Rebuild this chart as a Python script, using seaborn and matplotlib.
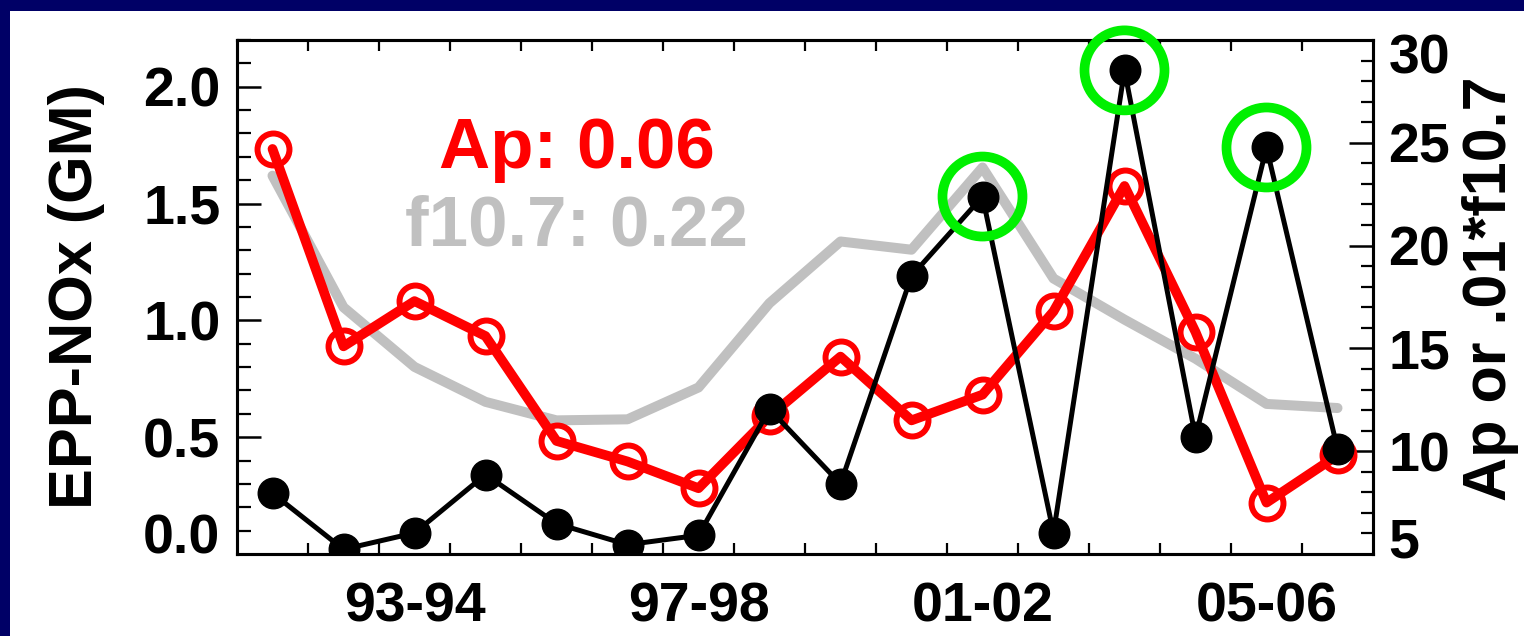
import numpy as np
import matplotlib
matplotlib.use("Agg")
import matplotlib.pyplot as plt
import matplotlib.ticker as mticker
import matplotlib.transforms as mtransforms
from matplotlib.patches import Rectangle
import seaborn as sns

# winters 91-92 .. 06-07
winters = ['91-92', '92-93', '93-94', '94-95', '95-96', '96-97', '97-98', '98-99',
           '99-00', '00-01', '01-02', '02-03', '03-04', '04-05', '05-06', '06-07']
shown_winters = ['93-94', '97-98', '01-02', '05-06']

# EPP-NOx (GM), left axis
epp_nox = [0.26, 0.02, 0.09, 0.34, 0.13, 0.04, 0.08, 0.62, 0.30, 1.19,
           1.53, 0.09, 2.07, 0.50, 1.74, 0.45]
# Ap and .01*f10.7, right axis
ap = [24.7, 15.1, 17.3, 15.6, 10.5, 9.5, 8.2, 11.7, 14.6, 11.5,
      12.75, 16.8, 22.9, 15.8, 7.5, 9.8]
f107 = [23.4, 17.0, 14.1, 12.4, 11.5, 11.55, 13.1, 17.2, 20.2, 19.8,
        23.8, 18.4, 16.4, 14.5, 12.3, 12.1]
highlight = ['01-02', '03-04', '05-06']

left_ticks = [0.0, 0.5, 1.0, 1.5, 2.0]
right_ticks = [5, 10, 15, 20, 25, 30]

NAVY = '#000066'
GRAY = '#c0c0c0'
RED = '#ff0000'
GREEN = '#00f000'

sns.set_style('ticks')
plt.rcParams['font.family'] = ['Liberation Sans', 'DejaVu Sans']
plt.rcParams['font.weight'] = 'bold'
for key in ('text.color', 'axes.labelcolor', 'xtick.color', 'ytick.color', 'axes.edgecolor'):
    plt.rcParams[key] = 'black'

W, H = 1524, 636
fig = plt.figure(figsize=(W / 100, H / 100), dpi=100, facecolor=NAVY)
fig.add_artist(Rectangle((10 / W, 0), 1 - 10 / W, (H - 11) / H, transform=fig.transFigure,
                         facecolor='white', edgecolor='none', zorder=-1))

ax = fig.add_axes([237 / W, (H - 554) / H, (1373 - 237) / W, (554 - 40) / H])
ax_r = ax.twinx()
ax.set_zorder(ax_r.get_zorder() + 1)
ax.patch.set_visible(False)

x = np.arange(len(winters))
hx = [winters.index(w) for w in highlight]
hy = [epp_nox[i] for i in hx]

sns.lineplot(x=x, y=f107, ax=ax_r, color=GRAY, linewidth=7.2, sort=False)
sns.lineplot(x=x, y=ap, ax=ax_r, color=RED, linewidth=7, sort=False,
             marker='o', markersize=23, markerfacecolor='none',
             markeredgecolor=RED, markeredgewidth=4.3)
sns.lineplot(x=x, y=epp_nox, ax=ax, color='black', linewidth=3.6, sort=False,
             marker='o', markersize=22, markerfacecolor='black',
             markeredgecolor='black', markeredgewidth=1)
sns.scatterplot(x=hx, y=hy, ax=ax, marker='o', s=57.6 ** 2, color='none',
                edgecolor=GREEN, linewidth=7, clip_on=False, zorder=5)

ax.set_xlim(-0.5, len(winters) - 0.5)
ax.set_ylim(0, 2.2)
ax_r.set_ylim(5, 30)

# x axis: labels at selected winters, small ticks between winters
ax.xaxis.set_major_locator(mticker.FixedLocator([winters.index(w) for w in shown_winters]))
ax.xaxis.set_major_formatter(mticker.FixedFormatter(shown_winters))
ax.xaxis.set_minor_locator(mticker.FixedLocator(x[:-1] + 0.5))
ax.tick_params(axis='x', which='major', length=0, pad=20, labelsize=40)
ax.tick_params(axis='x', which='minor', direction='in', length=8, width=1.6,
               top=True, bottom=True)

ax.yaxis.set_major_locator(mticker.FixedLocator(left_ticks))
ax.yaxis.set_major_formatter(mticker.FormatStrFormatter('%.1f'))
ax.yaxis.set_minor_locator(mticker.MultipleLocator(0.1))
ax.tick_params(axis='y', which='major', direction='in', length=17, width=1.8,
               pad=12, labelsize=40, left=True, right=False)
ax.tick_params(axis='y', which='minor', direction='in', length=10, width=1.6,
               left=True, right=False)

ax_r.yaxis.set_major_locator(mticker.FixedLocator(right_ticks))
ax_r.yaxis.set_minor_locator(mticker.MultipleLocator(1))
ax_r.tick_params(axis='y', which='major', direction='in', length=17, width=1.8,
                 pad=11, labelsize=40, left=False, right=True)
ax_r.tick_params(axis='y', which='minor', direction='in', length=9, width=1.6,
                 left=False, right=True)

for a in (ax, ax_r):
    for sp in a.spines.values():
        sp.set_linewidth(2.2)
        sp.set_color('black')

ax.set_xlabel('')
ax.set_ylabel('EPP-NOx (GM)', fontsize=44, fontweight='bold', color='black')
ax.yaxis.set_label_coords(-0.116, 0.5)
ax_r.set_ylabel('Ap or .01*f10.7', fontsize=44, fontweight='bold', color='black')
ax_r.yaxis.set_label_coords(1.078, 0.517)

# end labels pulled inside the box
def shift(label, dy_px):
    label.set_transform(label.get_transform() +
                        mtransforms.ScaledTranslation(0, dy_px / 100, fig.dpi_scale_trans))

shift(ax.get_yticklabels()[0], 21)
rlabels = ax_r.get_yticklabels()
shift(rlabels[0], 16)
shift(rlabels[-1], -13)

ax.text(0.299, 0.751, 'Ap: 0.06', transform=ax.transAxes, color=RED,
        fontsize=51, fontweight='bold', ha='center', va='baseline')
ax.text(0.299, 0.601, 'f10.7: 0.22', transform=ax.transAxes, color=GRAY,
        fontsize=51, fontweight='bold', ha='center', va='baseline')

fig.savefig('out.png', dpi=100)
